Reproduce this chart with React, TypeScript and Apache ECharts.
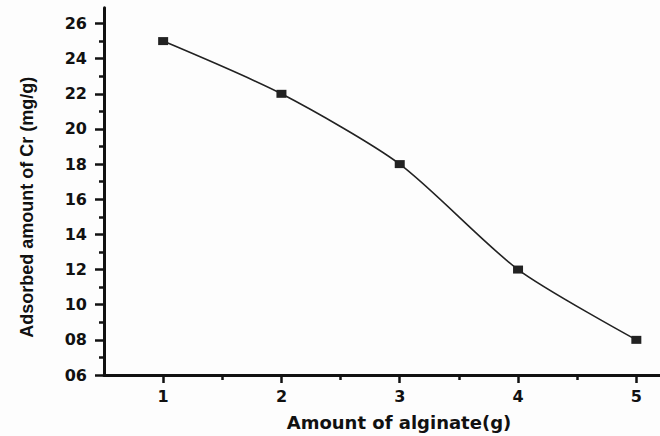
import React, { useEffect, useRef } from "react";
import * as echarts from "echarts";

const alginate = [1, 2, 3, 4, 5];
const adsorbed = [25, 22, 18, 12, 8];
const yMajorTicks = [6, 8, 10, 12, 14, 16, 18, 20, 22, 24, 26];
const yMinorTicks = [7, 9, 11, 13, 15, 17, 19, 21, 23, 25];
const xMajorTicks = [1, 2, 3, 4, 5];
const xMinorTicks = [1.5, 2.5, 3.5, 4.5];

const INK = "#111";

export default function App() {
  const ref = useRef<HTMLDivElement>(null);
  useEffect(() => {
    document.body.style.margin = "0";
    const chart = echarts.init(ref.current!, null, { renderer: "svg" });
    const xMin = 0.5, xMax = 5.2, yMin = 6, yMax = 26.9;
    const hidden = { show: false };
    chart.setOption({
      animation: false,
      backgroundColor: "#fdfdfd",
      grid: { left: 104, right: 0, top: 7.7, bottom: 61, containLabel: false, outerBoundsMode: "none" },
      xAxis: [
        {
          type: "value",
          min: xMin,
          max: xMax,
          name: "Amount of alginate(g)",
          nameLocation: "middle",
          nameGap: 38,
          nameTextStyle: {
            fontFamily: "DejaVu Sans",
            fontWeight: "bold",
            fontSize: 18,
            color: INK,
            padding: [0, 0, 0, 34],
          },
          axisLine: { show: true, onZero: false, lineStyle: { color: INK, width: 3 } },
          axisTick: { show: true, customValues: xMajorTicks, length: 8, lineStyle: { color: INK, width: 2.5 } },
          axisLabel: {
            customValues: xMajorTicks,
            margin: 13,
            fontFamily: "DejaVu Sans",
            fontWeight: "bold",
            fontSize: 16,
            color: INK,
          },
          splitLine: hidden,
        },
        {
          type: "value",
          min: xMin,
          max: xMax,
          position: "bottom",
          axisLine: { show: false, onZero: false },
          axisTick: { show: true, customValues: xMinorTicks, length: 5, lineStyle: { color: INK, width: 2.5 } },
          axisLabel: hidden,
          splitLine: hidden,
        },
      ],
      yAxis: [
        {
          type: "value",
          min: yMin,
          max: yMax,
          name: "Adsorbed amount of Cr (mg/g)",
          nameLocation: "middle",
          nameGap: 68,
          nameRotate: 90,
          nameTextStyle: {
            fontFamily: "Liberation Sans",
            fontWeight: "bold",
            fontSize: 18,
            color: INK,
            padding: [0, 32, 0, 0],
          },
          axisLine: { show: true, onZero: false, lineStyle: { color: INK, width: 3 } },
          axisTick: { show: true, customValues: yMajorTicks, length: 9, lineStyle: { color: INK, width: 2.5 } },
          axisLabel: {
            customValues: yMajorTicks,
            margin: 17,
            fontFamily: "DejaVu Sans",
            fontWeight: "bold",
            fontSize: 16,
            color: INK,
            formatter: (v: number) => (v < 10 ? "0" + v : String(v)),
          },
          splitLine: hidden,
        },
        {
          type: "value",
          min: yMin,
          max: yMax,
          position: "left",
          axisLine: { show: false, onZero: false },
          axisTick: { show: true, customValues: yMinorTicks, length: 5, lineStyle: { color: INK, width: 2.5 } },
          axisLabel: hidden,
          splitLine: hidden,
        },
      ],
      series: [
        {
          type: "line",
          xAxisIndex: 0,
          yAxisIndex: 0,
          data: alginate.map((x, i) => [x, adsorbed[i]]),
          smooth: 0.25,
          symbol: "rect",
          symbolSize: [10, 8],
          showSymbol: true,
          lineStyle: { color: "#222", width: 1.6 },
          itemStyle: { color: "#222" },
        },
      ],
    });
    return () => chart.dispose();
  }, []);
  return <div ref={ref} style={{ width: 660, height: 436 }} />;
}
